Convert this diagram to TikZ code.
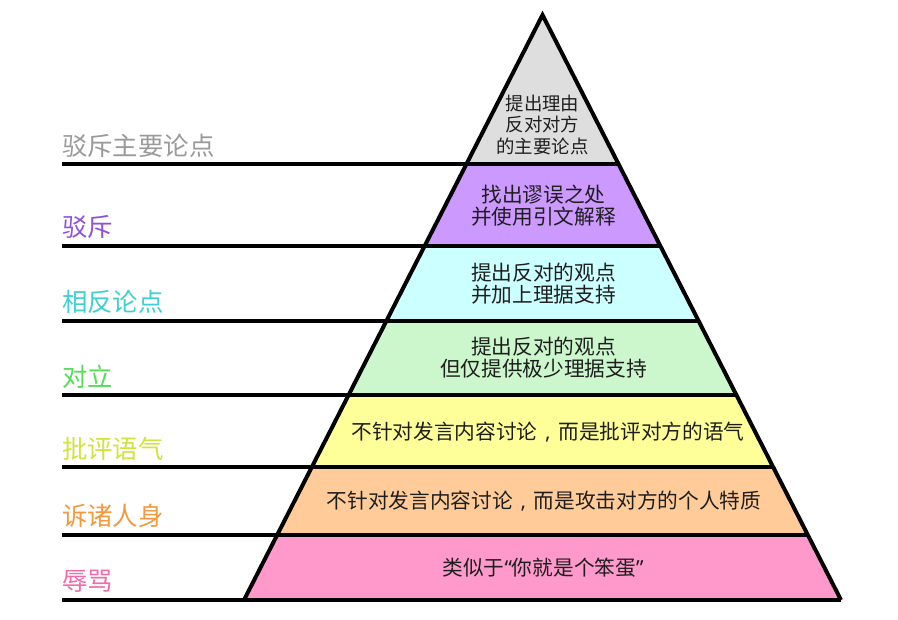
\documentclass[tikz,border=0pt]{standalone}
\usepackage{fontspec}
\setmainfont{Noto Sans CJK SC}
\newfontfamily\latinq{Noto Sans}
\newcommand{\cmm}{\makebox[1em][c]{\latinq ,}}
\definecolor{fGrey}{HTML}{DEDEDE}
\definecolor{fPurple}{HTML}{CC99FF}
\definecolor{fCyan}{HTML}{CCFFFF}
\definecolor{fGreen}{HTML}{CCF7CC}
\definecolor{fYellow}{HTML}{FFFF99}
\definecolor{fPeach}{HTML}{FFCC99}
\definecolor{fPink}{HTML}{FF99CC}
\definecolor{lGrey}{HTML}{9A9A9A}
\definecolor{lPurple}{HTML}{9050DD}
\definecolor{lCyan}{HTML}{40D0D0}
\definecolor{lGreen}{HTML}{55DD55}
\definecolor{lYellow}{HTML}{D0E43A}
\definecolor{lOrange}{HTML}{F39A3E}
\definecolor{lPink}{HTML}{F06BA8}
\definecolor{txt}{HTML}{1E1E1E}
\begin{document}
\begin{tikzpicture}[x=1pt,y=-1pt,
  rule/.style={line width=4pt,black},
  outline/.style={line width=4pt,black,line join=miter},
  inner/.style={text=txt,font=\fontsize{20.7}{22}\selectfont,align=center,inner sep=0pt},
  apextext/.style={text=txt,font=\fontsize{18.4}{21.5}\selectfont,align=center,inner sep=0pt},
  lab/.style={font=\fontsize{25.4}{28}\selectfont,anchor=west,inner sep=0pt}]
\useasboundingbox (0,0) rectangle (898,620);
\fill[white] (0,0) rectangle (898,620);
% edge coordinates
\coordinate (A) at (542.5,15);
\coordinate (L1) at (466.5,164); \coordinate (R1) at (618.5,164);
\coordinate (L2) at (424.6,246); \coordinate (R2) at (660.4,246);
\coordinate (L3) at (386.3,321); \coordinate (R3) at (698.7,321);
\coordinate (L4) at (348.6,395); \coordinate (R4) at (736.4,395);
\coordinate (L5) at (311.8,467); \coordinate (R5) at (773.2,467);
\coordinate (L6) at (277.1,535); \coordinate (R6) at (807.9,535);
\coordinate (L7) at (244,600); \coordinate (R7) at (841,600);
\coordinate (S1) at (62,164);
\coordinate (S2) at (62,246);
\coordinate (S3) at (62,321);
\coordinate (S4) at (62,395);
\coordinate (S5) at (62,467);
\coordinate (S6) at (62,535);
\coordinate (S7) at (62,600);
% bands
\fill[fGrey] (A) -- (L1) -- (R1) -- cycle;
\fill[fPurple] (L1) -- (L2) -- (R2) -- (R1) -- cycle;
\fill[fCyan] (L2) -- (L3) -- (R3) -- (R2) -- cycle;
\fill[fGreen] (L3) -- (L4) -- (R4) -- (R3) -- cycle;
\fill[fYellow] (L4) -- (L5) -- (R5) -- (R4) -- cycle;
\fill[fPeach] (L5) -- (L6) -- (R6) -- (R5) -- cycle;
\fill[fPink] (L6) -- (L7) -- (R7) -- (R6) -- cycle;
% rules
\draw[rule] (S1) -- (R1);
\draw[rule] (S2) -- (R2);
\draw[rule] (S3) -- (R3);
\draw[rule] (S4) -- (R4);
\draw[rule] (S5) -- (R5);
\draw[rule] (S6) -- (R6);
\draw[rule] (S7) -- (R7);
\draw[outline] (L7) -- (A) -- (R7);
% pyramid texts
\node[apextext] (t1) at (542.5,125) {提出理由\\反对对方\\的主要论点};
\node[inner] (t2) at (543.5,206) {找出谬误之处\\并使用引文解释};
\node[inner] (t3) at (543.5,284) {提出反对的观点\\并加上理据支持};
\node[inner] (t4) at (543.5,358) {提出反对的观点\\但仅提供极少理据支持};
\node[inner] (t5) at (548,432) {不针对发言内容讨论\cmm 而是批评对方的语气};
\node[inner] (t6) at (544,501) {不针对发言内容讨论\cmm 而是攻击对方的个人特质};
\node[inner] (t7) at (543,568) {类似于{\latinq “}你就是个笨蛋{\latinq ”}};
% left labels
\node[lab,text=lGrey] (n1) at (62,146) {驳斥主要论点};
\node[lab,text=lPurple] (n2) at (62,227) {驳斥};
\node[lab,text=lCyan] (n3) at (62,302) {相反论点};
\node[lab,text=lGreen] (n4) at (62,377) {对立};
\node[lab,text=lYellow] (n5) at (62,449) {批评语气};
\node[lab,text=lOrange] (n6) at (62,516) {诉诸人身};
\node[lab,text=lPink] (n7) at (62,581) {辱骂};
\end{tikzpicture}
\end{document}
